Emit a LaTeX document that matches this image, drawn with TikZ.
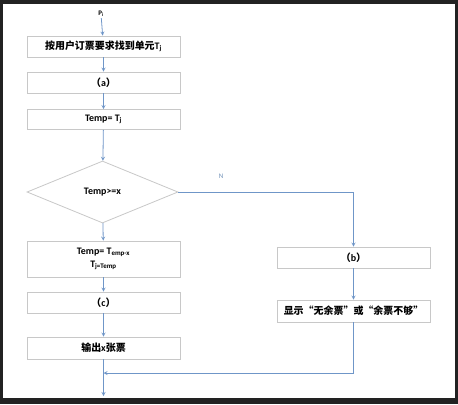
\documentclass[tikz,border=0pt]{standalone}
\usepackage{fontspec}
\setmainfont{Carlito}
\newfontfamily\cjk{Noto Sans CJK SC}
\usetikzlibrary{arrows,shapes.geometric}
\definecolor{linkblue}{HTML}{6F96C8}
\definecolor{boxgray}{HTML}{C8C8C8}
\definecolor{framegray}{HTML}{222222}
\tikzset{box/.style={draw=boxgray,fill=white,minimum width=153bp,minimum height=21bp,inner sep=1bp,align=center,font=\fontsize{10}{12}\selectfont\bfseries},
  flow/.style={->,draw=linkblue}}
\begin{document}
\begin{tikzpicture}[x=1bp,y=-1bp,>=stealth,line width=0.8bp]
		\fill[framegray] (0,0) rectangle (458,404);
		\fill[white] (3,4) rectangle (455,398);
		\node[inner sep=1bp,font=\fontsize{7}{8}\selectfont\bfseries] (p) at (101,14) {P\textsubscript{i}};
		\node[box] (find) at (103.5,46.5) {{\cjk 按用户订票要求找到单元}T\textsubscript{j}};
		\node[box] (a) at (103.5,82.5) {{\cjk （}a{\cjk ）}};
		\node[box,minimum height=20bp] (temp) at (103.5,119.5) {Temp= T\textsubscript{j}};
		\node[box,diamond,minimum width=151bp,minimum height=62bp,inner sep=0pt,aspect=2.4] (test) at (102.5,192) {Temp>=x};
		\node[box,minimum height=36bp] (sub) at (103.5,259) {Temp= T\textsubscript{emp-x}\\[1bp] T\textsubscript{j=Temp}};
		\node[box] (c) at (103.5,302.5) {{\cjk （}c{\cjk ）}};
		\node[box,minimum height=22bp] (out) at (103.5,348) {{\cjk 输出}x{\cjk 张票}};
		\node[box] (b) at (353.5,257.5) {{\cjk （}b{\cjk ）}};
		\node[box,minimum height=22bp] (show) at (353.5,311) {\cjk 显示“无余票”或“余票不够”};
		\node[text=linkblue!80!gray,font=\fontsize{7}{8}\selectfont] (n) at (221,176) {N};
		\coordinate (merge) at (103.5,373);
		\coordinate (exit) at (103.5,396);
		\draw[flow] (p) -- (find);
		\draw[flow] (find) -- (a);
		\draw[flow] (a) -- (temp);
		\draw[flow] (temp) -- (test);
		\draw[flow] (test) -- (sub);
		\draw[flow] (sub) -- (c);
		\draw[flow] (c) -- (out);
		\draw[flow] (test.east) -| (b.north);
		\draw[flow] (b) -- (show);
		\draw[flow] (show.south) |- (merge);
		\draw[flow] (out) -- (exit);
	\end{tikzpicture}
\end{document}
